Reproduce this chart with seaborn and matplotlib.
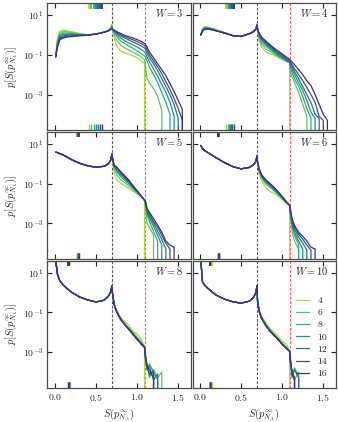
import numpy as np
import pandas as pd
import matplotlib
matplotlib.use('Agg')
import matplotlib.pyplot as plt
import seaborn as sns
from matplotlib.ticker import NullLocator

# --- data: log10 of the histogram density ---
L_values = [4, 6, 8, 10, 12, 14, 16]
W_values = [3, 4, 5, 6, 8, 10]

# bin centres (left of ln2 and right of ln2)
x_left = [0.01, 0.03, 0.06, 0.10, 0.15, 0.20, 0.30, 0.40, 0.50, 0.60, 0.65, 0.68, 0.693]
x_right = [0.70, 0.72, 0.75, 0.80, 0.85, 0.90, 0.95, 1.00, 1.05, 1.09, 1.10, 1.12,
           1.15, 1.20, 1.25, 1.30, 1.35, 1.40, 1.45, 1.50, 1.55, 1.60]

w3_left = {
    4:  [-1.10, -0.20, 0.20, 0.25, 0.22, 0.18, 0.08, 0.02, 0.05, 0.15, 0.22, 0.35, 0.55],
    6:  [-1.10, -0.30, 0.12, 0.18, 0.16, 0.13, 0.06, 0.01, 0.05, 0.15, 0.22, 0.33, 0.50],
    8:  [-1.10, -0.40, 0.03, 0.10, 0.10, 0.08, 0.04, 0.00, 0.05, 0.15, 0.22, 0.32, 0.46],
    10: [-1.10, -0.47, -0.05, 0.03, 0.04, 0.04, 0.02, 0.00, 0.05, 0.15, 0.22, 0.31, 0.42],
    12: [-1.10, -0.53, -0.12, -0.04, -0.01, 0.00, 0.00, 0.00, 0.05, 0.15, 0.22, 0.30, 0.39],
    14: [-1.10, -0.58, -0.18, -0.10, -0.06, -0.04, -0.02, 0.00, 0.05, 0.15, 0.21, 0.29, 0.37],
    16: [-1.10, -0.62, -0.23, -0.15, -0.10, -0.08, -0.04, -0.01, 0.05, 0.14, 0.21, 0.28, 0.35],
}
w3_right = {
    4:  [0.30, -0.10, -0.55, -0.80, -0.90, -0.97, -1.05, -1.15, -1.30, -1.45],
    6:  [0.30, 0.05, -0.25, -0.50, -0.65, -0.76, -0.86, -0.97, -1.10, -1.25, -1.50, -2.20,
         -2.40, -2.70, -3.10, -3.80],
    8:  [0.30, 0.15, -0.05, -0.30, -0.43, -0.55, -0.67, -0.80, -0.93, -1.05, -1.10, -1.30,
         -1.60, -2.00, -2.40, -2.90, -3.40, -4.00],
    10: [0.30, 0.20, 0.05, -0.15, -0.28, -0.40, -0.50, -0.60, -0.72, -0.85, -0.90, -1.10,
         -1.35, -1.70, -2.10, -2.50, -2.90, -3.40, -4.10],
    12: [0.30, 0.22, 0.10, -0.05, -0.15, -0.25, -0.35, -0.45, -0.55, -0.65, -0.70, -0.90,
         -1.15, -1.45, -1.80, -2.20, -2.60, -3.00, -3.50, -4.20],
    14: [0.29, 0.24, 0.15, 0.02, -0.08, -0.16, -0.24, -0.33, -0.43, -0.53, -0.57, -0.75,
         -1.00, -1.30, -1.60, -1.95, -2.35, -2.75, -3.20, -3.70, -4.30],
    16: [0.28, 0.25, 0.18, 0.08, -0.02, -0.08, -0.15, -0.23, -0.32, -0.42, -0.45, -0.60,
         -0.85, -1.15, -1.45, -1.75, -2.05, -2.45, -2.85, -3.30, -3.75],
}

w4_left = {
    4:  [0.00, 0.30, 0.42, 0.40, 0.33, 0.26, 0.12, -0.03, -0.07, 0.07, 0.18, 0.30, 0.55],
    6:  [0.00, 0.28, 0.40, 0.38, 0.32, 0.25, 0.12, -0.03, -0.07, 0.07, 0.18, 0.30, 0.54],
    8:  [0.00, 0.26, 0.37, 0.36, 0.31, 0.24, 0.11, -0.03, -0.07, 0.07, 0.18, 0.29, 0.53],
    10: [0.00, 0.24, 0.35, 0.35, 0.30, 0.23, 0.11, -0.03, -0.07, 0.07, 0.17, 0.29, 0.52],
    12: [0.00, 0.22, 0.33, 0.33, 0.28, 0.22, 0.10, -0.03, -0.07, 0.07, 0.17, 0.28, 0.51],
    14: [0.00, 0.21, 0.31, 0.31, 0.27, 0.21, 0.10, -0.03, -0.07, 0.07, 0.17, 0.28, 0.50],
    16: [0.00, 0.20, 0.30, 0.30, 0.26, 0.21, 0.10, -0.03, -0.07, 0.07, 0.17, 0.28, 0.50],
}
w4_right = {
    4:  [0.30, -0.30, -0.60, -0.85, -0.95, -1.02, -1.12, -1.25, -1.33, -1.38],
    6:  [0.30, -0.20, -0.45, -0.70, -0.82, -0.95, -1.08, -1.20, -1.32, -1.40, -1.90, -2.10,
         -2.40, -2.90, -3.50, -4.10],
    8:  [0.30, -0.10, -0.35, -0.55, -0.72, -0.88, -1.03, -1.17, -1.30, -1.40, -1.60, -1.90,
         -2.20, -2.60, -3.10, -3.70, -4.20],
    10: [0.30, -0.05, -0.25, -0.47, -0.65, -0.82, -0.98, -1.13, -1.27, -1.38, -1.45, -1.75,
         -2.00, -2.40, -2.80, -3.30, -3.90, -4.20],
    12: [0.30, 0.00, -0.20, -0.40, -0.58, -0.76, -0.93, -1.08, -1.23, -1.35, -1.40, -1.60,
         -1.85, -2.20, -2.60, -3.00, -3.40, -4.00, -4.20],
    14: [0.30, 0.05, -0.15, -0.35, -0.52, -0.70, -0.87, -1.02, -1.17, -1.30, -1.35, -1.50,
         -1.70, -2.00, -2.30, -2.65, -3.00, -3.40, -4.10, -4.30],
    16: [0.30, 0.10, -0.10, -0.30, -0.48, -0.65, -0.80, -0.95, -1.10, -1.22, -1.27, -1.35,
         -1.50, -1.75, -2.00, -2.30, -2.55, -3.00, -3.50, -4.00, -4.30],
}

# for W >= 5 the curves left of ln2 coincide for all L
w5_left = [0.59, 0.57, 0.52, 0.45, 0.34, 0.22, 0.03, -0.10, -0.17, -0.12, 0.00, 0.20, 0.50]
w5_right = {
    4:  [0.30, -0.45, -0.80, -0.98, -1.10, -1.25, -1.38, -1.50, -1.65, -1.83],
    6:  [0.30, -0.25, -0.55, -0.80, -0.95, -1.12, -1.30, -1.47, -1.67, -1.83, -2.10, -3.00,
         -3.20, -3.60],
    8:  [0.30, -0.16, -0.40, -0.65, -0.83, -1.02, -1.23, -1.44, -1.66, -1.83, -1.95, -2.55,
         -2.90, -3.40, -3.90],
    10: [0.30, -0.12, -0.30, -0.55, -0.75, -0.95, -1.18, -1.41, -1.65, -1.83, -1.90, -2.45,
         -2.75, -3.15, -3.60, -4.10],
    12: [0.30, -0.09, -0.24, -0.48, -0.69, -0.90, -1.15, -1.39, -1.64, -1.83, -1.89, -2.35,
         -2.65, -3.00, -3.40, -3.80, -4.30],
    14: [0.30, -0.07, -0.19, -0.43, -0.64, -0.86, -1.12, -1.37, -1.63, -1.83, -1.88, -2.30,
         -2.55, -2.90, -3.20, -3.60, -4.00, -4.30],
    16: [0.30, -0.05, -0.15, -0.39, -0.60, -0.82, -1.10, -1.35, -1.62, -1.83, -1.88, -2.25,
         -2.45, -2.76, -3.10, -3.45, -3.90, -4.10, -4.20],
}

w6_left = [0.93, 0.78, 0.66, 0.56, 0.43, 0.30, 0.06, -0.14, -0.25, -0.18, -0.05, 0.12, 0.40]
w6_right = {
    4:  [0.10, -0.45, -0.85, -1.20, -1.40, -1.48, -1.62, -1.80, -1.98, -2.09],
    6:  [0.10, -0.38, -0.73, -1.02, -1.20, -1.36, -1.55, -1.76, -1.96, -2.09, -2.60, -3.40,
         -3.90, -4.30],
    8:  [0.10, -0.34, -0.67, -0.95, -1.12, -1.31, -1.51, -1.73, -1.94, -2.09, -2.50, -3.15,
         -3.60, -4.10],
    10: [0.10, -0.31, -0.63, -0.90, -1.07, -1.27, -1.48, -1.71, -1.93, -2.09, -2.45, -3.05,
         -3.45, -3.90, -4.30],
    12: [0.10, -0.29, -0.60, -0.86, -1.03, -1.23, -1.45, -1.69, -1.92, -2.09, -2.40, -2.95,
         -3.30, -3.70, -4.00, -4.35],
    14: [0.10, -0.27, -0.57, -0.83, -1.00, -1.20, -1.42, -1.67, -1.91, -2.09, -2.35, -2.85,
         -3.20, -3.55, -3.80, -4.10, -4.35],
    16: [0.10, -0.25, -0.55, -0.80, -0.98, -1.17, -1.40, -1.65, -1.90, -2.09, -2.30, -2.76,
         -3.10, -3.45, -3.65, -3.90, -4.20, -4.30],
}

w8_left = [1.70, 0.95, 0.60, 0.40, 0.20, 0.03, -0.22, -0.37, -0.47, -0.38, -0.18, 0.05, 0.35]
w8_right = {
    4:  [0.00, -0.55, -0.88, -1.25, -1.45, -1.65, -1.95, -2.10, -2.35, -2.70],
    6:  [0.00, -0.57, -0.90, -1.30, -1.55, -1.78, -2.00, -2.25, -2.45, -2.72, -3.40, -3.60,
         -4.30, -3.90, -4.30, -4.00],
    8:  [0.00, -0.58, -0.94, -1.37, -1.58, -1.88, -2.05, -2.38, -2.55, -2.77, -3.20, -3.90,
         -3.60, -4.00, -4.40],
    10: [0.00, -0.59, -0.96, -1.32, -1.63, -1.82, -2.13, -2.30, -2.60, -2.74, -3.30, -3.60,
         -4.20, -3.90],
    12: [0.00, -0.61, -0.94, -1.36, -1.60, -1.86, -2.08, -2.36, -2.57, -2.76, -3.10, -3.80,
         -3.70, -4.40, -4.10],
    14: [0.00, -0.60, -0.96, -1.33, -1.62, -1.83, -2.12, -2.33, -2.60, -2.75, -3.20, -3.75,
         -4.10, -4.00],
    16: [0.00, -0.60, -0.95, -1.34, -1.60, -1.85, -2.10, -2.35, -2.58, -2.76, -3.10, -3.70,
         -3.90, -4.30],
}

w10_left = [1.70, 0.55, 0.36, 0.20, 0.03, -0.13, -0.33, -0.46, -0.53, -0.43, -0.25, 0.00, 0.35]
w10_right = {
    4:  [-0.40, -0.88, -1.20, -1.50, -1.80, -2.00, -2.20, -2.45, -2.60, -2.90],
    6:  [-0.40, -0.90, -1.25, -1.60, -1.85, -2.10, -2.30, -2.55, -2.75, -2.95, -3.70, -3.90,
         -4.40, -4.00],
    8:  [-0.40, -0.92, -1.27, -1.66, -1.88, -2.18, -2.32, -2.63, -2.77, -2.97, -3.40, -4.30,
         -3.80, -4.20],
    10: [-0.40, -0.94, -1.30, -1.62, -1.95, -2.12, -2.40, -2.57, -2.83, -2.94, -3.60, -3.90,
         -4.30],
    12: [-0.40, -0.93, -1.28, -1.67, -1.90, -2.17, -2.33, -2.62, -2.78, -2.96, -3.30, -4.20,
         -3.90, -4.30],
    14: [-0.40, -0.95, -1.32, -1.63, -1.94, -2.13, -2.38, -2.58, -2.82, -2.95, -3.50, -4.00,
         -4.40],
    16: [-0.40, -0.95, -1.30, -1.65, -1.92, -2.15, -2.35, -2.60, -2.80, -2.95, -3.40, -4.10,
         -4.30],
}

# mean entropy per L (rug marks at top and bottom)
rug_w3 = [0.41, 0.44, 0.47, 0.50, 0.52, 0.545, 0.57]
rug_w4 = [0.32, 0.335, 0.35, 0.365, 0.38, 0.395, 0.41]
rug_w5 = [0.265, 0.27, 0.275, 0.28, 0.283, 0.286, 0.29]
rug_w6 = [0.237, 0.232, 0.23, 0.228, 0.226, 0.225, 0.224]
rug_w8 = [0.18, 0.174, 0.171, 0.169, 0.167, 0.166, 0.165]
rug_w10 = [0.145, 0.13, 0.125, 0.122, 0.12, 0.119, 0.118]

left_parts = {3: w3_left, 4: w4_left, 5: w5_left, 6: w6_left, 8: w8_left, 10: w10_left}
right_parts = {3: w3_right, 4: w4_right, 5: w5_right, 6: w6_right, 8: w8_right, 10: w10_right}
rugs = {3: rug_w3, 4: rug_w4, 5: rug_w5, 6: rug_w6, 8: rug_w8, 10: rug_w10}


def panel_frame(W):
    rows = []
    for L in L_values:
        left = left_parts[W]
        left = left[L] if isinstance(left, dict) else left
        right = right_parts[W][L]
        xs = x_left + x_right[:len(right)]
        ps = [10 ** v for v in left + right]
        if len(right) < len(x_right):
            # histogram is empty past the last bin
            xs = xs + [x_right[len(right)]]
            ps = ps + [0.0]
        rows += [(x, p, L) for x, p in zip(xs, ps)]
    return pd.DataFrame(rows, columns=['S', 'p', 'L'])


# --- style ---
sns.set_theme(style='ticks')
plt.rcParams['font.family'] = 'serif'
plt.rcParams['font.serif'] = ['cmr10', 'DejaVu Serif']
plt.rcParams['mathtext.fontset'] = 'cm'
plt.rcParams['axes.unicode_minus'] = False
plt.rcParams['axes.formatter.use_mathtext'] = True

colors = sns.color_palette('viridis_r', len(L_values))
palette = dict(zip(L_values, colors))

fig, axes = plt.subplots(3, 2, figsize=(3.38, 4.22), dpi=100, sharex=True, sharey=True)
fig.subplots_adjust(left=0.1405, right=0.993, top=0.993, bottom=0.081,
                    wspace=0.014, hspace=0.012)

for ax, W in zip(axes.flat, W_values):
    df = panel_frame(W)
    sns.lineplot(data=df, x='S', y='p', hue='L', hue_order=L_values, palette=palette,
                 estimator=None, sort=False, lw=0.9, alpha=1.0, ax=ax,
                 legend='full' if W == 10 else False)
    ax.set_yscale('log')
    ax.axvline(np.log(2), color='0.35', ls=(0, (2.5, 1.5)), lw=0.8, zorder=0)
    ax.axvline(np.log(3), color='#ff5a5a', ls=(0, (2.5, 1.5)), lw=0.8, zorder=0)

    # rug of the means at bottom and top
    sns.rugplot(x=rugs[W], hue=L_values, palette=palette, height=0.045, lw=1.4,
                expand_margins=False, legend=False, ax=ax)
    ax.vlines(rugs[W], 0.955, 1.0, colors=colors, lw=1.4,
              transform=ax.get_xaxis_transform())

    ax.text(0.95, 0.92, f'$W = {W}$', transform=ax.transAxes, ha='right',
            va='center', fontsize=7.5)

    ax.set_xlim(-0.09, 1.65)
    ax.set_ylim(10 ** -4.8, 10 ** 1.62)
    ax.set_xticks([0.0, 0.5, 1.0, 1.5])
    ax.set_yticks([1e1, 1e-1, 1e-3])
    ax.yaxis.set_minor_locator(NullLocator())
    ax.tick_params(direction='in', top=True, right=True, length=3.5, width=0.8,
                   labelsize=7, pad=3)
    for s in ax.spines.values():
        s.set_linewidth(0.9)
        s.set_color('0.3')
    ax.set_xlabel('')
    ax.set_ylabel('')

for ax in axes[:, 0]:
    ax.set_ylabel(r'$p[S(p^{\infty}_{N_A})]$', fontsize=7.5, labelpad=2)
for ax in axes[-1, :]:
    ax.set_xlabel(r'$S(p^{\infty}_{N_A})$', fontsize=7.5, labelpad=2)
for ax in axes[:-1, :].flat:
    ax.tick_params(labelbottom=False)

leg_ax = axes[-1, 1]
handles, labels = leg_ax.get_legend_handles_labels()
leg_ax.legend(handles, labels, loc='lower right', bbox_to_anchor=(0.98, 0.03),
              frameon=False, fontsize=7, handlelength=1.4, handletextpad=0.8,
              labelspacing=0.35, borderaxespad=0.2)

output_filename = 'out.png'
plt.savefig(output_filename, dpi=100)
print(f"Plot saved to {output_filename}")
